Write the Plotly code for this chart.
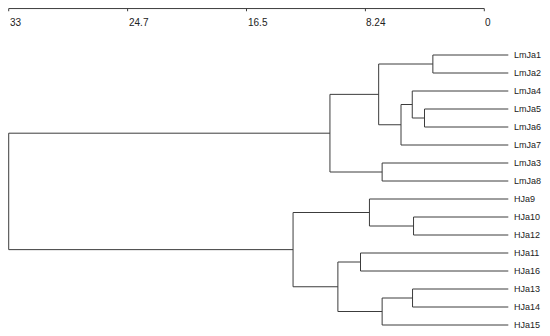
import plotly.graph_objects as go

# ---- data ----
leaf_labels = ["LmJa1", "LmJa2", "LmJa4", "LmJa5", "LmJa6", "LmJa7", "LmJa3", "LmJa8",
               "HJa9", "HJa10", "HJa12", "HJa11", "HJa16", "HJa13", "HJa14", "HJa15"]
# merges: (left child, right child, height); children are leaf labels or "m<index>"
merge_left = ["LmJa1", "LmJa5", "LmJa4", "m2", "m0", "LmJa3", "m4",
              "HJa10", "HJa9", "HJa11", "HJa13", "m10", "m9", "m8", "m6"]
merge_right = ["LmJa2", "LmJa6", "m1", "LmJa7", "m3", "LmJa8", "m5",
               "HJa12", "m7", "HJa16", "HJa14", "HJa15", "m11", "m12", "m13"]
merge_height = [3.57, 4.15, 5.00, 5.78, 7.33, 7.09, 10.71,
                4.91, 7.97, 8.59, 4.98, 7.09, 10.16, 13.27, 33.0]
tick_values = [33, 24.75, 16.5, 8.25, 0]
tick_labels = ["33", "24.7", "16.5", "8.24", "0"]

# ---- style constants ----
LINE = "#3c3c3c"
TEXT = "#222222"
FONT = "Liberation Sans, Arial, sans-serif"
LEAF_END = -1.665
AXIS_Y = -1.58
TICK_Y = -1.43
TICKLABEL_Y = -0.78

pos = {name: (LEAF_END, i + 1) for i, name in enumerate(leaf_labels)}
xs, ys = [], []
for k, (a, b, h) in enumerate(zip(merge_left, merge_right, merge_height)):
    xa, ya = pos[a]
    xb, yb = pos[b]
    xs += [xa, h, h, xb, None]
    ys += [ya, ya, yb, yb, None]
    pos["m%d" % k] = (h, (ya + yb) / 2)

fig = go.Figure()
fig.add_trace(go.Scatter(x=xs, y=ys, mode="lines",
                         line=dict(color=LINE, width=1), hoverinfo="skip",
                         showlegend=False))

# top axis line and ticks
ax_x, ax_y = [max(tick_values), min(tick_values), None], [AXIS_Y, AXIS_Y, None]
for t in tick_values:
    ax_x += [t, t, None]
    ax_y += [AXIS_Y, TICK_Y, None]
fig.add_trace(go.Scatter(x=ax_x, y=ax_y, mode="lines",
                         line=dict(color=LINE, width=1), hoverinfo="skip",
                         showlegend=False))

for t, lab in zip(tick_values, tick_labels):
    fig.add_annotation(x=t, y=TICKLABEL_Y, text=lab, showarrow=False,
                       xanchor="left", yanchor="middle", xshift=-1,
                       font=dict(size=10, color=TEXT, family=FONT))

for i, lab in enumerate(leaf_labels):
    fig.add_annotation(x=LEAF_END, y=i + 1, text=lab, showarrow=False,
                       xanchor="left", yanchor="middle", xshift=4,
                       font=dict(size=9, color=TEXT, family=FONT))

fig.update_layout(
    width=534, height=328,
    margin=dict(l=0, r=0, t=0, b=0),
    paper_bgcolor="white", plot_bgcolor="white",
    xaxis=dict(range=[33.049, -4.003], visible=False, fixedrange=True),
    yaxis=dict(range=[16.611, -1.611], visible=False, fixedrange=True),
)

fig.write_html("out.html")
